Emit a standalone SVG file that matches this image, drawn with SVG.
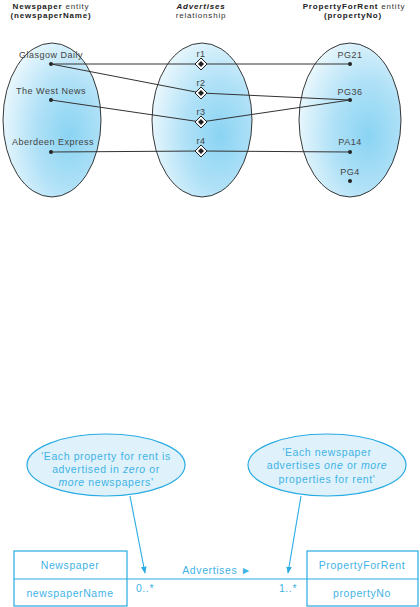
<svg xmlns="http://www.w3.org/2000/svg" width="420" height="607" viewBox="0 0 420 607">
<defs>
<radialGradient id="blue" cx="0.68" cy="0.6" r="0.78">
<stop offset="0" stop-color="#8ad4f3"/>
<stop offset="0.45" stop-color="#b0e1f7"/>
<stop offset="1" stop-color="#f6fcfe"/>
</radialGradient>
<marker id="arr" viewBox="0 0 10 10" refX="9" refY="5" markerWidth="7" markerHeight="7" orient="auto" markerUnits="userSpaceOnUse">
<path d="M0,1 L10,5 L0,9 z" fill="#29abe2"/>
</marker>
<g id="dia">
<path d="M0,-6 L6,0 L0,6 L-6,0 z" fill="#fff" stroke="#222" stroke-width="1"/>
<path d="M0,-3 L3,0 L0,3 L-3,0 z" fill="#222"/>
</g>
</defs>
<style>
.set{fill:url(#blue);stroke:#222;stroke-width:0.9}
.lbl{font-family:"Liberation Sans",Arial,sans-serif;font-size:9px;font-weight:normal;letter-spacing:0.5px;fill:#444;text-anchor:middle}
.hdr{font-family:"Liberation Sans",Arial,sans-serif;font-size:8px;font-weight:normal;letter-spacing:0.8px;fill:#333;text-anchor:middle}
.b{font-weight:bold;fill:#222}
.dot{fill:#222}
.ln{stroke:#333;stroke-width:1;fill:none}
.call{fill:#dff2fb;stroke:#29abe2;stroke-width:1.2}
.ct{font-family:"Liberation Sans",Arial,sans-serif;font-size:10.5px;letter-spacing:0.6px;fill:#3fb3e5;text-anchor:middle}
.box{fill:none;stroke:#29abe2;stroke-width:1.2}
.ptr{stroke:#29abe2;stroke-width:1.1;fill:none}
</style>

<g id="newspaper-set">
<text class="hdr" x="51" y="8.5"><tspan class="b">Newspaper</tspan> entity</text>
<text class="hdr b" x="51" y="18">(newspaperName)</text>
<ellipse class="set" cx="52" cy="120" rx="49" ry="77"/>
<text class="lbl" x="51" y="58">Glasgow Daily</text>
<circle class="dot" cx="51" cy="64" r="2"/>
<text class="lbl" x="51" y="94">The West News</text>
<circle class="dot" cx="51" cy="100" r="2"/>
<text class="lbl" x="53" y="145">Aberdeen Express</text>
<circle class="dot" cx="51" cy="152" r="2"/>
</g>

<g id="advertises-set">
<text class="hdr b" x="201" y="8.5" font-style="italic">Advertises</text>
<text class="hdr" x="201" y="18">relationship</text>
<ellipse class="set" cx="202" cy="120" rx="50" ry="77"/>
</g>

<g id="property-set">
<text class="hdr" x="354" y="8.5"><tspan class="b">PropertyForRent</tspan> entity</text>
<text class="hdr b" x="353" y="18">(propertyNo)</text>
<ellipse class="set" cx="350" cy="120" rx="51" ry="77"/>
<text class="lbl" x="350" y="58">PG21</text>
<circle class="dot" cx="350" cy="64" r="2"/>
<text class="lbl" x="350" y="94.5">PG36</text>
<circle class="dot" cx="350" cy="100" r="2"/>
<text class="lbl" x="350" y="145">PA14</text>
<circle class="dot" cx="350" cy="152" r="2"/>
<text class="lbl" x="350" y="175">PG4</text>
<circle class="dot" cx="350" cy="181" r="2"/>
</g>

<g id="connectors">
<polyline class="ln" points="51,64 201,64 350,64" stroke="#666"/>
<polyline class="ln" points="51,64 201,93 350,100"/>
<polyline class="ln" points="51,100 201,122 350,100"/>
<polyline class="ln" points="51,152 201,151 350,152"/>
</g>

<g id="relationships">
<text class="lbl" x="201" y="57">r1</text>
<use href="#dia" x="201" y="64"/>
<text class="lbl" x="201" y="85.5">r2</text>
<use href="#dia" x="201" y="93"/>
<text class="lbl" x="201" y="114.5">r3</text>
<use href="#dia" x="201" y="122"/>
<text class="lbl" x="201" y="143.5">r4</text>
<use href="#dia" x="201" y="151"/>
</g>

<g id="note-left">
<ellipse class="call" cx="106" cy="465" rx="79" ry="31"/>
<text class="ct" x="106" y="460">'Each property for rent is</text>
<text class="ct" x="106" y="473">advertised in <tspan font-style="italic">zero</tspan> or</text>
<text class="ct" x="106" y="486"><tspan font-style="italic">more</tspan> newspapers'</text>
</g>

<g id="note-right">
<ellipse class="call" cx="327" cy="465" rx="79" ry="31"/>
<text class="ct" x="327" y="456">'Each newspaper</text>
<text class="ct" x="327" y="469">advertises <tspan font-style="italic">one</tspan> or <tspan font-style="italic">more</tspan></text>
<text class="ct" x="327" y="483">properties for rent'</text>
</g>

<g id="class-newspaper">
<rect class="box" x="14" y="551" width="113" height="55"/>
<line class="box" x1="14" y1="579" x2="127" y2="579"/>
<text class="ct" x="70" y="569">Newspaper</text>
<text class="ct" x="70" y="597" letter-spacing="0.5">newspaperName</text>
</g>

<g id="class-property">
<rect class="box" x="307" y="551" width="111" height="55"/>
<line class="box" x1="307" y1="579" x2="418" y2="579"/>
<text class="ct" x="362" y="569">PropertyForRent</text>
<text class="ct" x="362" y="597">propertyNo</text>
</g>

<g id="association">
<line class="box" x1="127" y1="579" x2="307" y2="579"/>
<text class="ct" x="217" y="574">Advertises ►</text>
<text class="ct" x="145" y="592">0..*</text>
<text class="ct" x="288" y="592">1..*</text>
<line class="ptr" x1="130" y1="496" x2="145" y2="573" marker-end="url(#arr)"/>
<line class="ptr" x1="301" y1="496" x2="288" y2="573" marker-end="url(#arr)"/>
</g>
</svg>
